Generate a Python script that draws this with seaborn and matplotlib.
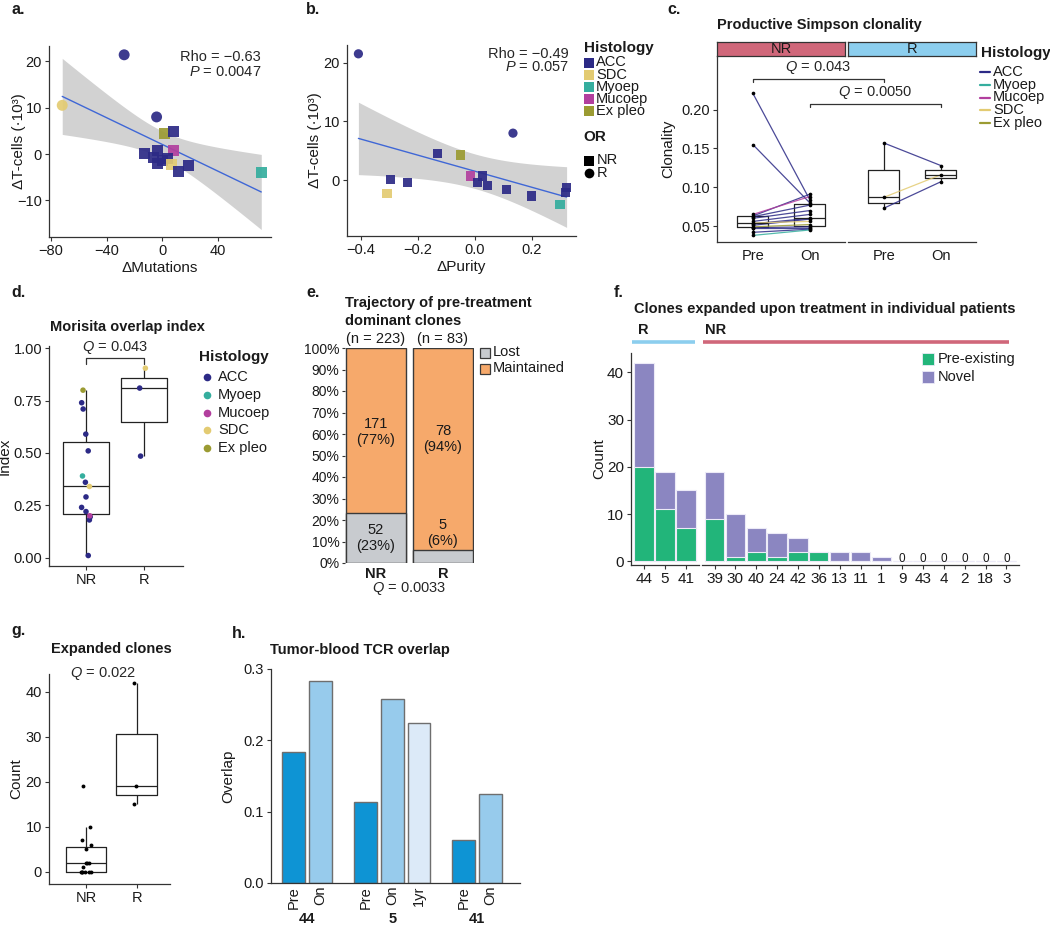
import numpy as np
import pandas as pd
import matplotlib
matplotlib.use("Agg")
import matplotlib.pyplot as plt
import matplotlib.transforms as mtransforms
import seaborn as sns
from matplotlib.lines import Line2D
from matplotlib.patches import Rectangle

# ---------------------------------------------------------------- data
hist_order = ['ACC', 'SDC', 'Myoep', 'Mucoep', 'Ex pleo']
hist_colors = ['#2C2A86', '#E3CB72', '#35AE9E', '#B23F9E', '#9B9B32']

# a: delta mutations vs delta T-cells
a_mutations = [-27.5, -72.0, -4.2, 1.6, 7.8, -12.7, -3.3, 7.8, -6.4, -3.3, 0.2, 3.8, 6.6, 18.6, 11.8, 71.0]
a_tcells = [21.4, 10.5, 8.0, 4.4, 4.8, 0.1, 0.7, 0.7, -0.8, -2.0, -1.4, -1.0, -2.3, -2.5, -3.8, -4.0]
a_histology = ['ACC', 'SDC', 'ACC', 'Ex pleo', 'ACC', 'ACC', 'ACC', 'Mucoep', 'ACC', 'ACC',
               'ACC', 'ACC', 'SDC', 'ACC', 'ACC', 'Myoep']
a_response = ['R', 'R', 'R'] + ['NR'] * 13

# b: delta purity vs delta T-cells
b_purity = [-0.408, 0.134, -0.295, -0.308, -0.237, -0.132, -0.049, -0.015, 0.010, 0.027,
            0.044, 0.111, 0.198, 0.299, 0.318, 0.322]
b_tcells = [21.5, 8.0, 0.1, -2.3, -0.4, 4.6, 4.3, 0.7, -0.4, 0.7, -0.85, -1.6, -2.7, -4.1, -2.1, -1.25]
b_histology = ['ACC', 'ACC', 'ACC', 'SDC', 'ACC', 'ACC', 'Ex pleo', 'Mucoep', 'ACC', 'ACC',
               'ACC', 'ACC', 'ACC', 'Myoep', 'ACC', 'ACC']
b_response = ['R', 'R'] + ['NR'] * 14

# c: productive Simpson clonality (paired pre / on)
c_nr_pre = [0.221, 0.155, 0.065, 0.063, 0.062, 0.060, 0.056, 0.054, 0.053, 0.051, 0.049, 0.048, 0.047, 0.042, 0.038]
c_nr_on = [0.084, 0.080, 0.088, 0.091, 0.077, 0.070, 0.065, 0.056, 0.060, 0.059, 0.052, 0.049, 0.047, 0.046, 0.045]
c_nr_hist = ['ACC', 'ACC', 'Mucoep', 'ACC', 'ACC', 'ACC', 'ACC', 'SDC', 'ACC', 'ACC',
             'Ex pleo', 'ACC', 'ACC', 'ACC', 'Myoep']
c_r_pre = [0.157, 0.087, 0.073]
c_r_on = [0.128, 0.116, 0.107]
c_r_hist = ['ACC', 'SDC', 'ACC']
c_legend_order = ['ACC', 'Myoep', 'Mucoep', 'SDC', 'Ex pleo']

# d: Morisita overlap index
d_nr = [0.71, 0.74, 0.59, 0.51, 0.36, 0.29, 0.24, 0.22, 0.195, 0.18, 0.01, 0.39, 0.20, 0.34, 0.80]
d_nr_hist = ['ACC'] * 11 + ['Myoep', 'Mucoep', 'SDC', 'Ex pleo']
d_r = [0.905, 0.81, 0.485]
d_r_hist = ['SDC', 'ACC', 'ACC']

# e: trajectory of pre-treatment dominant clones
e_groups = ['NR', 'R']
e_lost = [52, 5]
e_maintained = [171, 78]

# f: clones expanded upon treatment
f_r_patients = ['44', '5', '41']
f_r_preexisting = [20, 11, 7]
f_r_novel = [22, 8, 8]
f_nr_patients = ['39', '30', '40', '24', '42', '36', '13', '11', '1', '9', '43', '4', '2', '18', '3']
f_nr_preexisting = [9, 1, 2, 1, 2, 2, 0, 0, 0, 0, 0, 0, 0, 0, 0]
f_nr_novel = [10, 9, 5, 5, 3, 0, 2, 2, 1, 0, 0, 0, 0, 0, 0]

# h: tumor-blood TCR overlap
h_patients = ['44', '44', '5', '5', '5', '41', '41']
h_timepoints = ['Pre', 'On', 'Pre', 'On', '1yr', 'Pre', 'On']
h_overlap = [0.183, 0.283, 0.113, 0.258, 0.225, 0.060, 0.125]

# ---------------------------------------------------------------- style
sns.set_theme(style='ticks')
plt.rcParams['font.family'] = ['Liberation Sans', 'DejaVu Sans']
plt.rcParams['mathtext.fontset'] = 'custom'
plt.rcParams['mathtext.rm'] = 'Liberation Sans'
plt.rcParams['mathtext.it'] = 'Liberation Sans:italic'
plt.rcParams['mathtext.bf'] = 'Liberation Sans:bold'
plt.rcParams.update({
    'axes.edgecolor': '#333333', 'axes.linewidth': 0.9,
    'xtick.color': '#333333', 'ytick.color': '#333333',
    'xtick.labelcolor': '#1a1a1a', 'ytick.labelcolor': '#1a1a1a',
    'xtick.major.size': 3, 'ytick.major.size': 3,
    'xtick.major.width': 0.8, 'ytick.major.width': 0.8,
    'xtick.major.pad': 2, 'ytick.major.pad': 2,
    'xtick.labelsize': 10.5, 'ytick.labelsize': 10.5,
    'axes.labelsize': 11, 'axes.labelcolor': '#1a1a1a',
    'axes.labelpad': 2,
})

hist_pal = dict(zip(hist_order, hist_colors))
LINE_BLUE = '#3F67D6'
BAND = '#D2D2D2'
ORANGE = '#F6A96B'
GREYBAR = '#C8CBCF'
GREEN = '#22B57A'
PURPLE = '#8B86C1'
NR_RED = '#D0677A'
R_BLUE = '#8CCEEE'
T95_DF14 = 2.145  # Student t quantile (0.975, 14 df) for the 95% band

W, H = 1050, 926
fig = plt.figure(figsize=(W / 100, H / 100), dpi=100)


def add_ax(x0, y0, x1, y1):
    return fig.add_axes([x0 / W, 1 - y1 / H, (x1 - x0) / W, (y1 - y0) / H])


def ftext(x, y, s, **kw):
    kw.setdefault('va', 'center')
    kw.setdefault('ha', 'left')
    kw.setdefault('color', '#1a1a1a')
    return fig.text(x / W, 1 - y / H, s, **kw)


def fmarker(x, y, **kw):
    fig.add_artist(Line2D([x / W], [1 - y / H], transform=fig.transFigure, ls='', **kw))


def fline(x0, x1, y, **kw):
    fig.add_artist(Line2D([x0 / W, x1 / W], [1 - y / H, 1 - y / H], transform=fig.transFigure, **kw))


def fpatch(xc, yc, size, **kw):
    fig.add_artist(Rectangle(((xc - size / 2) / W, 1 - (yc + size / 2) / H), size / W, size / H,
                             transform=fig.transFigure, **kw))


def ylabel_at(ax, x_px, x0, x1):
    ax.yaxis.set_label_coords((x_px - x0) / (x1 - x0), 0.5)


# panel letters
for lx, ly, lt in [(11, 9, 'a.'), (306, 9, 'b.'), (667, 9, 'c.'), (11, 293, 'd.'), (306, 293, 'e.'),
                   (614, 293, 'f.'), (11, 630, 'g.'), (232, 634, 'h.')]:
    ftext(lx, ly, lt, fontsize=11.5, weight='bold')

# ---------------------------------------------------------------- a & b


def corr_panel(ax, x, y, hist, resp, size):
    df = pd.DataFrame({'x': x, 'y': y, 'Histology': hist, 'OR': resp})
    xv = df['x'].to_numpy()
    yv = df['y'].to_numpy()
    n = len(xv)
    slope, icpt = np.polyfit(xv, yv, 1)
    grid = np.linspace(xv.min(), xv.max(), 200)
    yhat = icpt + slope * grid
    resid = yv - (icpt + slope * xv)
    s = np.sqrt(np.sum(resid ** 2) / (n - 2))
    se = s * np.sqrt(1 / n + (grid - xv.mean()) ** 2 / np.sum((xv - xv.mean()) ** 2))
    ax.fill_between(grid, yhat - T95_DF14 * se, yhat + T95_DF14 * se, color=BAND, lw=0, zorder=1)
    sns.lineplot(x=grid, y=yhat, color=LINE_BLUE, lw=1.0, ax=ax, zorder=2)
    sns.scatterplot(data=df, x='x', y='y', hue='Histology', hue_order=hist_order, palette=hist_pal,
                    style='OR', style_order=['NR', 'R'], markers={'NR': 's', 'R': 'o'},
                    s=size, linewidth=0, alpha=0.92, legend=False, ax=ax, zorder=3)
    sns.despine(ax=ax)


x0, y0, x1, y1 = 49, 46, 271, 237
axA = add_ax(x0, y0, x1, y1)
corr_panel(axA, a_mutations, a_tcells, a_histology, a_response, 62)
axA.set(xlim=(-81.5, 78), ylim=(-17.9, 23.3), xticks=[-80, -40, 0, 40], yticks=[-10, 0, 10, 20])
axA.set_xlabel('ΔMutations')
axA.set_ylabel('ΔT-cells (·10³)')
ylabel_at(axA, 26, x0, x1)
axA.tick_params(labelsize=10.5)
axA.text(0.955, 0.94, 'Rho = −0.63', transform=axA.transAxes, ha='right', va='center', fontsize=10.5)
axA.text(0.955, 0.865, '$P$ = 0.0047', transform=axA.transAxes, ha='right', va='center', fontsize=10.5)

x0, y0, x1, y1 = 347, 45, 576, 236
axB = add_ax(x0, y0, x1, y1)
corr_panel(axB, b_purity, b_tcells, b_histology, b_response, 44)
axB.set(xlim=(-0.448, 0.355), ylim=(-9.5, 23.0), xticks=[-0.4, -0.2, 0.0, 0.2], yticks=[0, 10, 20])
axB.set_xticklabels(['−0.4', '−0.2', '0.0', '0.2'])
axB.set_xlabel('ΔPurity')
axB.set_ylabel('ΔT-cells (·10³)')
ylabel_at(axB, 322, x0, x1)
axB.tick_params(labelsize=10.5)
axB.text(0.97, 0.955, 'Rho = −0.49', transform=axB.transAxes, ha='right', va='center', fontsize=10.5)
axB.text(0.97, 0.885, '$P$ = 0.057', transform=axB.transAxes, ha='right', va='center', fontsize=10.5)

# legend a/b
ftext(584, 48, 'Histology', fontsize=11, weight='bold')
for yy, lab in zip([62.5, 74.8, 87, 99, 111], hist_order):
    fmarker(589, yy, marker='s', markersize=7.5, color=hist_pal[lab], markeredgewidth=0)
    ftext(596, yy, lab, fontsize=10.5)
ftext(583, 137, 'OR', fontsize=11, weight='bold')
fmarker(589, 161, marker='s', markersize=7, color='black', markeredgewidth=0)
ftext(596.5, 160.5, 'NR', fontsize=10.5)
fmarker(589, 173, marker='o', markersize=7, color='black', markeredgewidth=0)
ftext(596.5, 173, 'R', fontsize=10.5)

# ---------------------------------------------------------------- c
ftext(717, 25, 'Productive Simpson clonality', fontsize=10.5, weight='bold')
cy0, cy1 = 56, 242
axCN = add_ax(717, cy0, 845, cy1)
axCR = add_ax(848, cy0, 976, cy1)
axCR.set_facecolor('none')
axCN.set_zorder(3)
axCN.set_facecolor('none')
time_order = ['Pre', 'On']
for ax, pre, on, hist in [(axCN, c_nr_pre, c_nr_on, c_nr_hist), (axCR, c_r_pre, c_r_on, c_r_hist)]:
    n = len(pre)
    dfc = pd.DataFrame({'pid': list(range(n)) * 2, 'time': ['Pre'] * n + ['On'] * n,
                        'val': pre + on, 'hist': hist * 2})
    dfc['xpos'] = dfc['time'].map({'Pre': 0, 'On': 1})
    sns.boxplot(data=dfc, x='time', y='val', order=time_order, fill=False, color='#222222',
                width=0.55, linewidth=0.9, showfliers=False, showcaps=False, saturation=1, ax=ax)
    sns.lineplot(data=dfc, x='xpos', y='val', hue='hist', hue_order=hist_order, palette=hist_pal,
                 units='pid', estimator=None, lw=0.9, alpha=0.85, legend=False, sort=False, ax=ax)
    sns.scatterplot(data=dfc, x='xpos', y='val', color='black', s=7, linewidth=0, legend=False,
                    ax=ax, zorder=4)
    ax.set(xlim=(-0.63, 1.62), ylim=(0.0295, 0.269), xlabel='', ylabel='')
    ax.set_xticks([0, 1])
    ax.set_xticklabels(time_order)
    ax.tick_params(axis='x', length=0, pad=5)
axCN.set_yticks([0.05, 0.10, 0.15, 0.20])
axCN.set_yticklabels(['0.05', '0.10', '0.15', '0.20'])
axCN.set_ylabel('Clonality')
ylabel_at(axCN, 675, 717, 845)
sns.despine(ax=axCN)
sns.despine(ax=axCR, left=True)
axCR.set_yticks([])
# strips
for (sx0, sx1, lab, col) in [(717, 845, 'NR', NR_RED), (848, 976, 'R', R_BLUE)]:
    sax = add_ax(sx0, 42, sx1, 55.5)
    sax.set_facecolor(col)
    sax.set_xticks([])
    sax.set_yticks([])
    for sp in sax.spines.values():
        sp.set_color('#333333')
        sp.set_linewidth(0.9)
    sax.text(0.5, 0.45, lab, transform=sax.transAxes, ha='center', va='center', fontsize=10.5, color='#1a1a1a')


def nr_x(ax_src, x):
    disp = ax_src.transData.transform((x, 0.1))[0]
    return axCN.transData.inverted().transform((disp, 0.1))[0]


for xa, xb, yb, lab in [(0, 0, 0.2397, '$Q$ = 0.043'), (1, 1, 0.2077, '$Q$ = 0.0050')]:
    xl = xa
    xr = nr_x(axCR, xb)
    d = 0.0048
    axCN.plot([xl, xl, xr, xr], [yb - d, yb, yb, yb - d], color='#333333', lw=0.9, clip_on=False)
    axCN.text((xl + xr) / 2, yb + 0.0035, lab, ha='center', va='bottom', fontsize=10.5, clip_on=False)

ftext(981, 53, 'Histology', fontsize=11, weight='bold')
for yy, lab in zip([72, 85, 97.5, 110, 122.5], c_legend_order):
    fline(980, 990, yy, color=hist_pal[lab], lw=1.6)
    ftext(993, yy, lab, fontsize=10.5)

# ---------------------------------------------------------------- d
ftext(50, 327, 'Morisita overlap index', fontsize=10.5, weight='bold')
x0, y0, x1, y1 = 49, 346, 183, 566
axD = add_ax(x0, y0, x1, y1)
dfd = pd.DataFrame({'grp': ['NR'] * len(d_nr) + ['R'] * len(d_r), 'val': d_nr + d_r,
                    'hist': d_nr_hist + d_r_hist})
sns.boxplot(data=dfd, x='grp', y='val', order=['NR', 'R'], fill=False, color='#222222', width=0.8,
            linewidth=0.9, showfliers=False, showcaps=False, saturation=1, ax=axD)
np.random.seed(11)
sns.stripplot(data=dfd, x='grp', y='val', order=['NR', 'R'], hue='hist', hue_order=hist_order,
              palette=hist_pal, jitter=0.08, size=4, linewidth=0, legend=False, ax=axD, zorder=3)
axD.set(xlim=(-0.64, 1.67), ylim=(-0.04, 1.011), xlabel='', ylabel='Index')
axD.set_yticks([0, 0.25, 0.5, 0.75, 1.0])
axD.set_yticklabels(['0.00', '0.25', '0.50', '0.75', '1.00'])
ylabel_at(axD, 12, x0, x1)
sns.despine(ax=axD)
axD.plot([0, 0, 1, 1], [0.925, 0.952, 0.952, 0.925], color='#333333', lw=0.9, clip_on=False)
axD.text(0.5, 0.962, '$Q$ = 0.043', ha='center', va='bottom', fontsize=10.5)

ftext(199, 357.5, 'Histology', fontsize=11, weight='bold')
for yy, lab in zip([377, 394.8, 412.5, 430, 447.5], c_legend_order):
    fmarker(206.5, yy, marker='o', markersize=5.5, color=hist_pal[lab], markeredgewidth=0)
    ftext(218, yy, lab, fontsize=10.5)

# ---------------------------------------------------------------- e
ftext(345, 303, 'Trajectory of pre-treatment', fontsize=10.5, weight='bold')
ftext(345, 321, 'dominant clones', fontsize=10.5, weight='bold')
axE = add_ax(345, 348, 474, 563)
e_total = [l + m for l, m in zip(e_lost, e_maintained)]
e_lost_pct = [100 * l / t for l, t in zip(e_lost, e_total)]
e_all_pct = [100 * (l + m) / t for l, m, t in zip(e_lost, e_maintained, e_total)]
sns.barplot(x=e_groups, y=e_all_pct, order=e_groups, color=ORANGE, saturation=1, width=0.9,
            edgecolor='#3a3a3a', linewidth=1, errorbar=None, ax=axE)
sns.barplot(x=e_groups, y=e_lost_pct, order=e_groups, color=GREYBAR, saturation=1, width=0.9,
            edgecolor='#3a3a3a', linewidth=1, errorbar=None, ax=axE)
axE.set(xlim=(-0.463, 1.463), ylim=(0, 100), xlabel='', ylabel='')
axE.set_yticks(range(0, 101, 10))
axE.set_yticklabels([f'{v}%' for v in range(0, 101, 10)])
axE.set_xticks([0, 1])
axE.set_xticklabels(e_groups, fontweight='bold')
axE.tick_params(axis='y', length=2, labelsize=10)
axE.tick_params(axis='x', length=0, pad=3, labelsize=10.5)
for sp in axE.spines.values():
    sp.set_visible(False)
maint_label_y = [61, 57.7]
lost_label_y = [11.6, 14]
for i, (l, m, t) in enumerate(zip(e_lost, e_maintained, e_total)):
    axE.text(i, maint_label_y[i], f'{m}\n({round(100 * m / t)}%)', ha='center', va='center',
             fontsize=10.5, linespacing=1.15, color='#1a1a1a')
    axE.text(i, lost_label_y[i], f'{l}\n({round(100 * l / t)}%)', ha='center', va='center',
             fontsize=10.5, linespacing=1.15, color='#1a1a1a')
    axE.text(i, 100.8, f'(n = {t})', ha='center', va='bottom', fontsize=10.5, color='#1a1a1a')
axE.text(0.5, -0.118, '$Q$ = 0.0033', transform=axE.transAxes, ha='center', va='center', fontsize=10.5)

fpatch(485, 353, 10, facecolor=GREYBAR, edgecolor='#3a3a3a', lw=0.9)
ftext(493, 352, 'Lost', fontsize=10.5)
fpatch(485, 368.5, 10, facecolor=ORANGE, edgecolor='#3a3a3a', lw=0.9)
ftext(493, 367.5, 'Maintained', fontsize=10.5)

# ---------------------------------------------------------------- f
ftext(634, 309, 'Clones expanded upon treatment in individual patients', fontsize=10.5, weight='bold')
ftext(638, 330, 'R', fontsize=10.5, weight='bold')
ftext(705, 330, 'NR', fontsize=10.5, weight='bold')
fline(631.7, 695, 341.7, color=R_BLUE, lw=2.6, solid_capstyle='butt')
fline(702.7, 1009.3, 341.7, color=NR_RED, lw=2.6, solid_capstyle='butt')
fy0, fy1 = 353, 565
axFR = add_ax(631, fy0, 699, fy1)
axFN = add_ax(702, fy0, 1019, fy1)
for ax, pats, pre, nov in [(axFR, f_r_patients, f_r_preexisting, f_r_novel),
                           (axFN, f_nr_patients, f_nr_preexisting, f_nr_novel)]:
    tot = [p + q for p, q in zip(pre, nov)]
    sns.barplot(x=pats, y=tot, order=pats, color=PURPLE, saturation=1, width=0.92,
                edgecolor='#ECEAF7', linewidth=0.8, errorbar=None, ax=ax)
    sns.barplot(x=pats, y=pre, order=pats, color=GREEN, saturation=1, width=0.92,
                edgecolor='#ECEAF7', linewidth=0.8, errorbar=None, ax=ax)
    for i, t in enumerate(tot):
        if t == 0:
            ax.text(i, 0.45, '0', ha='center', va='center', fontsize=8.5, color='#1a1a1a')
    ax.set(ylim=(-0.8, 44.1), xlim=(-0.6, len(pats) - 0.4), xlabel='', ylabel='')
    ax.tick_params(axis='x', labelsize=11, pad=2)
axFR.set_yticks([0, 10, 20, 30, 40])
axFR.set_ylabel('Count')
ylabel_at(axFR, 606, 631, 699)
axFR.tick_params(axis='y', labelsize=11)
sns.despine(ax=axFR)
sns.despine(ax=axFN, left=True)
axFN.set_yticks([])
fpatch(928, 359.3, 12, facecolor=GREEN, edgecolor='#ECEAF7', lw=0.6)
ftext(938, 359.3, 'Pre-existing', fontsize=10.5)
fpatch(928, 376.7, 12, facecolor=PURPLE, edgecolor='#ECEAF7', lw=0.6)
ftext(938, 376.7, 'Novel', fontsize=10.5)

# ---------------------------------------------------------------- g
ftext(51, 649, 'Expanded clones', fontsize=10.5, weight='bold')
x0, y0, x1, y1 = 49, 674, 170, 884
axG = add_ax(x0, y0, x1, y1)
g_nr = [p + q for p, q in zip(f_nr_preexisting, f_nr_novel)]
g_r = [p + q for p, q in zip(f_r_preexisting, f_r_novel)]
dfg = pd.DataFrame({'grp': ['NR'] * len(g_nr) + ['R'] * len(g_r), 'val': g_nr + g_r})
sns.boxplot(data=dfg, x='grp', y='val', order=['NR', 'R'], fill=False, color='#222222', width=0.8,
            linewidth=0.9, showfliers=False, showcaps=False, saturation=1, ax=axG)
np.random.seed(5)
sns.stripplot(data=dfg, x='grp', y='val', order=['NR', 'R'], color='black', jitter=0.12, size=2.8,
              linewidth=0, ax=axG, zorder=3)
axG.set(xlim=(-0.73, 1.66), ylim=(-2.7, 43.9), xlabel='', ylabel='Count')
axG.set_yticks([0, 10, 20, 30, 40])
ylabel_at(axG, 23, x0, x1)
sns.despine(ax=axG)
axG.text(0.34, 1.0, '$Q$ = 0.022', transform=mtransforms.blended_transform_factory(axG.transData, axG.transAxes),
         ha='center', va='center', fontsize=10.5)

# ---------------------------------------------------------------- h
ftext(270, 650, 'Tumor-blood TCR overlap', fontsize=10.5, weight='bold')
x0, y0, x1, y1 = 271, 669, 520, 883
axH = add_ax(x0, y0, x1, y1)
group_gap = 0.68
h_pos = []
cur = 0.0
for i, p in enumerate(h_patients):
    if i > 0:
        cur += 1.0 + (group_gap if p != h_patients[i - 1] else 0.0)
    h_pos.append(cur)
dfh = pd.DataFrame({'pos': h_pos, 'overlap': h_overlap, 'time': h_timepoints})
sns.barplot(data=dfh, x='pos', y='overlap', hue='time', hue_order=['Pre', 'On', '1yr'],
            palette={'Pre': '#0E94D4', 'On': '#97CBEC', '1yr': '#DCEAF8'}, native_scale=True,
            dodge=False, width=0.86, saturation=1, edgecolor='#6E6E6E', linewidth=1,
            errorbar=None, legend=False, ax=axH)
axH.set(xlim=(-0.86, 8.46), ylim=(0, 0.3), xlabel='', ylabel='Overlap')
axH.set_yticks([0, 0.1, 0.2, 0.3])
axH.set_yticklabels(['0.0', '0.1', '0.2', '0.3'])
axH.set_xticks(h_pos)
axH.set_xticklabels(h_timepoints, rotation=90)
axH.tick_params(axis='x', length=0, pad=2)
ylabel_at(axH, 235, x0, x1)
sns.despine(ax=axH)
blend = mtransforms.blended_transform_factory(axH.transData, fig.transFigure)
seen = []
for p in h_patients:
    if p not in seen:
        seen.append(p)
for p in seen:
    xs = [x for x, q in zip(h_pos, h_patients) if q == p]
    axH.text(np.mean(xs), 1 - 919 / H, p, transform=blend, ha='center', va='center',
             fontsize=10.5, weight='bold', color='#1a1a1a')

fig.savefig('out.png', dpi=100)
